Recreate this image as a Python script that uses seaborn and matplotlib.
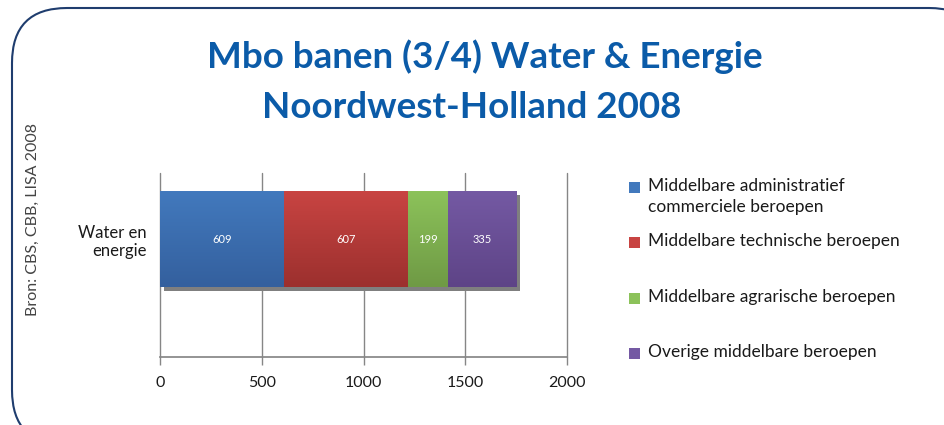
import numpy as np
import pandas as pd
import matplotlib
matplotlib.use("Agg")
import matplotlib.pyplot as plt
import matplotlib.patheffects as pe
from matplotlib.patches import FancyBboxPatch, Rectangle
import seaborn as sns

# Data
categorie = "Water en\nenergie"
beroepen = [
    "Middelbare administratief\ncommerciele beroepen",
    "Middelbare technische beroepen",
    "Middelbare agrarische beroepen",
    "Overige middelbare beroepen",
]
banen = [609, 607, 199, 335]
kleuren = ["#4279BD", "#C84442", "#8CC25A", "#7459A3"]
kleuren_donker = ["#34609E", "#9C302E", "#6F9A45", "#5E4487"]

sns.set_theme(style="white")
plt.rcParams["font.family"] = ["Lato", "DejaVu Sans"]

df = pd.DataFrame({"beroep": beroepen, "banen": banen, "cat": categorie})
df["cum"] = np.cumsum(banen)

fig = plt.figure(figsize=(9.44, 4.25), dpi=100)

# rounded frame (pixel coordinates)
bg = fig.add_axes([0, 0, 1, 1], zorder=-5)
bg.set_xlim(0, 944)
bg.set_ylim(425, 0)
bg.axis("off")
bg.add_patch(FancyBboxPatch((12 + 55, 8 + 55), 944 - 12 - 110 + 40, 425 - 8 - 110 + 20,
                            boxstyle="round,pad=55", fc="white", ec="#1F3D6E", lw=1.5))

ax = fig.add_axes([160 / 944, 1 - 357 / 425, 407 / 944, 184 / 425])

# stacked bars: draw cumulative totals, largest first
for i in reversed(range(len(banen))):
    sns.barplot(data=df.iloc[[i]], x="cum", y="cat", color=kleuren[i],
                width=0.52, saturation=1, ax=ax, zorder=3)

patches = list(ax.patches)
for p in patches:
    p.set_edgecolor("none")
patches[0].set_path_effects([pe.SimplePatchShadow(offset=(3, -3), shadow_rgbFace="#7F7F7F", alpha=1.0),
                             pe.Normal()])

# subtle vertical gradient on each segment
for k, p in enumerate(patches):
    i = len(banen) - 1 - k
    x0, y0 = p.get_x(), p.get_y()
    w, h = p.get_width(), p.get_height()
    cmap = matplotlib.colors.LinearSegmentedColormap.from_list("g", [kleuren[i], kleuren_donker[i]])
    grad = np.linspace(0, 1, 64).reshape(-1, 1)
    im = ax.imshow(grad, cmap=cmap, aspect="auto", extent=(x0, x0 + w, y0 + h, y0),
                   origin="upper", zorder=3 + k * 0.01)
    im.set_clip_path(p)

# value labels centred in each segment
starts = np.concatenate([[0], np.cumsum(banen)[:-1]])
for s, v in zip(starts, banen):
    ax.text(s + v / 2, 0, str(v), color="white", ha="center", va="center",
            fontsize=8, zorder=6)

ax.set_xlim(0, 2000)
ax.set_ylim(0.64, -0.358)
ax.set_xticks([0, 500, 1000, 1500, 2000])
ax.set_xticklabels(["0", "500", "1000", "1500", "2000"])
ax.grid(axis="x", color="#868686", lw=1, zorder=0)
for gl in ax.get_xgridlines():
    gl.set_clip_on(False)
ax.set_axisbelow(True)
for s in ["top", "right", "left"]:
    ax.spines[s].set_visible(False)
ax.spines["bottom"].set_color("#868686")
ax.tick_params(axis="x", bottom=True, length=6, color="#868686", width=1,
               labelsize=11.5, pad=8, labelcolor="#1a1a1a")
ax.tick_params(axis="y", left=False, length=0, labelsize=12, pad=9.5, labelcolor="#1a1a1a")
for t in ax.get_yticklabels():
    t.set_ha("right")
    t.set_multialignment("right")
ax.set_xlabel("")
ax.set_ylabel("")

# legend, placed entry by entry like the original
leg_y = [187, 242, 298, 353]
for c, lab, y in zip(kleuren, beroepen, leg_y):
    fig.patches.append(Rectangle((629 / 944, 1 - (y + 6) / 425), 11 / 944, 11 / 425,
                                 transform=fig.transFigure, facecolor=c, edgecolor="none"))
    fig.text(648 / 944, 1 - (y - 9) / 425, lab, ha="left", va="top", fontsize=12.5,
             color="#1a1a1a", linespacing=1.35)

# titles and source
fig.text(485 / 944, 1 - 57 / 425, "Mbo banen (3/4) Water & Energie", ha="center", va="center",
         fontsize=26.5, fontweight="bold", color="#0B5BA8")
fig.text(472 / 944, 1 - 107 / 425, "Noordwest-Holland 2008", ha="center", va="center",
         fontsize=26.5, fontweight="bold", color="#0B5BA8")
fig.text(33 / 944, 1 - 220 / 425, "Bron: CBS, CBB, LISA 2008", rotation=90, ha="center",
         va="center", fontsize=11.5, color="#444444")

fig.savefig("out.png", dpi=100)
